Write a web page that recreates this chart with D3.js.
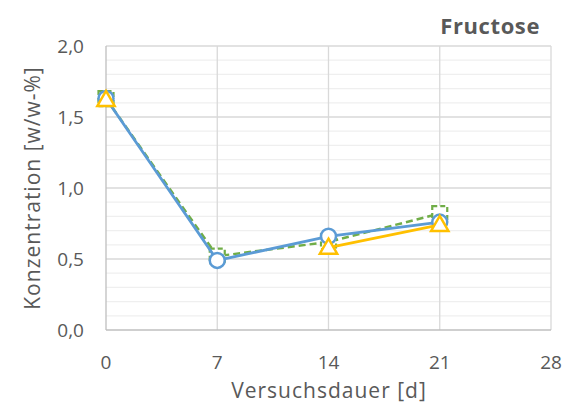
<!DOCTYPE html>
<html><head><meta charset="utf-8">
<script src="https://cdn.jsdelivr.net/npm/d3@7"></script>
<style>body{margin:0;background:#fff}svg{display:block}</style>
</head><body>
<script>
const days = [0, 7, 14, 21];
const xTicks = [0, 7, 14, 21, 28];
const yTicks = [0, 0.5, 1.0, 1.5, 2.0];
const seriesGreen = [1.63, 0.52, 0.62, 0.82];
const seriesBlue = [1.63, 0.49, 0.66, 0.76];
const seriesYellow = [1.62, null, 0.58, 0.74];
const title = "Fructose";
const xTitle = "Versuchsdauer [d]";
const yTitle = "Konzentration [w/w-%]";

const W = 571, H = 405;
const svg = d3.select("body").append("svg").attr("width", W).attr("height", H);
const font = "'Open Sans', 'Liberation Sans', sans-serif";
const x = d3.scaleLinear().domain([0, 28]).range([106, 551]);
const y = d3.scaleLinear().domain([0, 2]).range([330, 46]);

// minor gridlines
const minor = d3.range(0, 2.0001, 0.1).filter(v => Math.abs(v * 2 - Math.round(v * 2)) > 1e-6);
svg.append("g").selectAll("line").data(minor).join("line")
  .attr("x1", x(0)).attr("x2", x(28)).attr("y1", d => y(d)).attr("y2", d => y(d))
  .attr("stroke", "#efefef").attr("stroke-width", 1.3);
svg.append("g").selectAll("line").data(yTicks.filter(v => v > 0)).join("line")
  .attr("x1", x(0)).attr("x2", x(28)).attr("y1", d => y(d)).attr("y2", d => y(d))
  .attr("stroke", "#d9d9d9").attr("stroke-width", 1.3);
svg.append("g").selectAll("line").data(xTicks.filter(v => v > 0)).join("line")
  .attr("x1", d => x(d)).attr("x2", d => x(d)).attr("y1", y(0)).attr("y2", y(2))
  .attr("stroke", "#d9d9d9").attr("stroke-width", 1.3);
// axes lines
svg.append("line").attr("x1", x(0)).attr("x2", x(28)).attr("y1", y(0)).attr("y2", y(0))
  .attr("stroke", "#bfbfbf").attr("stroke-width", 1.3);
svg.append("line").attr("x1", x(0)).attr("x2", x(0)).attr("y1", y(0)).attr("y2", y(2))
  .attr("stroke", "#bfbfbf").attr("stroke-width", 1.3);

// tick labels
const fmt = v => d3.format(".1f")(v).replace(".", ",");
svg.append("g").selectAll("text").data(yTicks).join("text")
  .attr("x", 84).attr("y", d => y(d)).attr("dy", "0.35em").attr("text-anchor", "end")
  .attr("font-family", font).attr("font-size", 19).attr("fill", "#595959").text(fmt);
svg.append("g").selectAll("text").data(xTicks).join("text")
  .attr("x", d => x(d)).attr("y", 362).attr("dy", "0.35em").attr("text-anchor", "middle")
  .attr("font-family", font).attr("font-size", 19).attr("fill", "#595959").text(d => d);

svg.append("text").attr("x", 329).attr("y", 391).attr("dy", "0.35em").attr("text-anchor", "middle")
  .attr("font-family", font).attr("font-size", 21).attr("letter-spacing", 1).attr("fill", "#595959").text(xTitle);
svg.append("text").attr("transform", `translate(33,${y(1)}) rotate(-90)`).attr("dy", "0.35em")
  .attr("text-anchor", "middle").attr("letter-spacing", 1)
  .attr("font-family", font).attr("font-size", 21).attr("fill", "#595959").text(yTitle);
svg.append("text").attr("x", 540).attr("y", 26).attr("dy", "0.35em").attr("text-anchor", "end")
  .attr("font-family", font).attr("font-size", 22).attr("letter-spacing", 0.6)
  .attr("font-weight", "bold").attr("fill", "#595959").text(title);

const line = d3.line().defined(d => d[1] != null).x(d => x(d[0])).y(d => y(d[1]));
function pts(vals) { return days.map((d, i) => [d, vals[i]]); }

// green dashed squares
const gp = pts(seriesGreen);
svg.append("path").attr("d", line(gp)).attr("fill", "none").attr("stroke", "#70AD47")
  .attr("stroke-width", 2.5).attr("stroke-dasharray", "7,4");
svg.append("g").selectAll("rect").data(gp.filter(d => d[1] != null)).join("rect")
  .attr("x", d => x(d[0]) - 7.5).attr("y", d => y(d[1]) - 7.5).attr("width", 15).attr("height", 15)
  .attr("fill", "#fff").attr("stroke", "#70AD47").attr("stroke-width", 2.2).attr("stroke-dasharray", "5,3");

// blue circles
const bp = pts(seriesBlue);
svg.append("path").attr("d", line(bp)).attr("fill", "none").attr("stroke", "#5B9BD5").attr("stroke-width", 2.8);
svg.append("g").selectAll("circle").data(bp).join("circle")
  .attr("cx", d => x(d[0])).attr("cy", d => y(d[1])).attr("r", 7.5)
  .attr("fill", "#fff").attr("stroke", "#5B9BD5").attr("stroke-width", 2.5);

// yellow triangles
const yp = pts(seriesYellow);
svg.append("path").attr("d", line(yp)).attr("fill", "none").attr("stroke", "#FFC000").attr("stroke-width", 2.8);
const tri = d3.symbol().type(d3.symbolTriangle).size(130);
svg.append("g").selectAll("path").data(yp.filter(d => d[1] != null)).join("path")
  .attr("d", tri).attr("transform", d => `translate(${x(d[0])},${y(d[1]) + 1})`)
  .attr("fill", "#fff").attr("stroke", "#FFC000").attr("stroke-width", 2.5);
</script>
</body></html>
